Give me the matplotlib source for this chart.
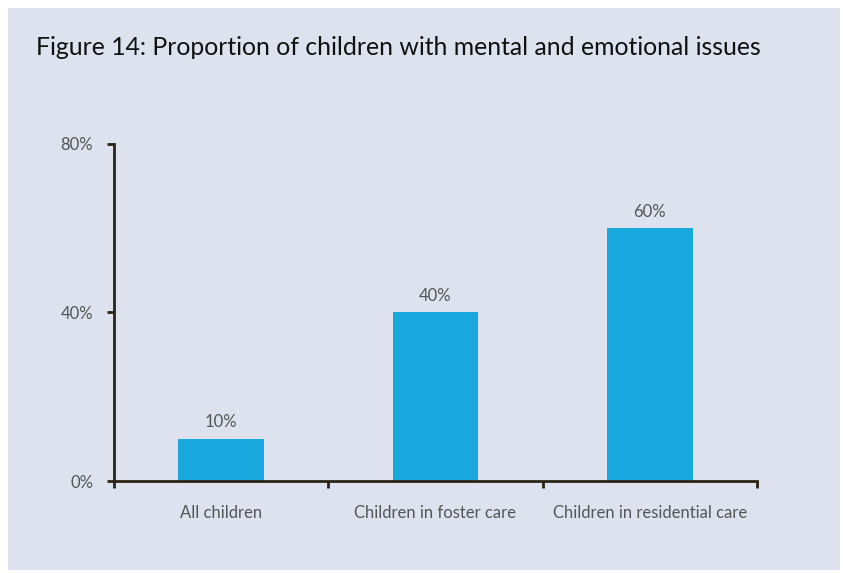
import matplotlib
matplotlib.use("Agg")
import matplotlib.pyplot as plt
from matplotlib.patches import Rectangle

categories = ["All children", "Children in foster care", "Children in residential care"]
values = [10, 40, 60]
value_labels = ["10%", "40%", "60%"]
yticks = [0, 40, 80]
ytick_labels = ["0%", "40%", "80%"]
title = "Figure 14: Proportion of children with mental and emotional issues"

W, H = 843, 573
fig = plt.figure(figsize=(W / 100, H / 100), dpi=100)
fig.patch.set_facecolor("white")
bg = "#dde2ee"
fig.patches.append(Rectangle((8 / W, 3 / H), (840 - 8) / W, (570 - 8) / H,
                             transform=fig.transFigure, facecolor=bg, edgecolor="none", zorder=-10))

plt.rcParams['font.family'] = ['Lato', 'DejaVu Sans']

ax = fig.add_axes([114 / W, (H - 481) / H, (757 - 114) / W, (481 - 144) / H])
ax.set_facecolor("none")
axcol = "#2b2416"
txtcol = "#555555"
fs = 12

x = range(len(categories))
ax.bar(x, values, width=0.4, color="#1aa9de", zorder=2)
for xi, v, lab in zip(x, values, value_labels):
    ax.text(xi, v + 2, lab, ha="center", va="bottom", fontsize=fs, color=txtcol)

ax.set_xlim(-0.5, 2.5)
ax.set_ylim(0, 80)
ax.set_yticks(yticks)
ax.set_yticklabels(ytick_labels, fontsize=fs, color=txtcol)
ax.set_xticks([-0.5, 0.5, 1.5, 2.5])
ax.set_xticklabels([])
ax.set_xticks(list(x), minor=True)
ax.set_xticklabels(categories, minor=True, fontsize=fs, color=txtcol)
ax.tick_params(axis="x", which="minor", length=0, pad=17)
ax.tick_params(axis="x", which="major", length=5, width=2, color=axcol, direction="out")
ax.tick_params(axis="y", length=5, width=2, color=axcol, direction="out", pad=10)
for s in ["top", "right"]:
    ax.spines[s].set_visible(False)
for s in ["left", "bottom"]:
    ax.spines[s].set_color(axcol)
    ax.spines[s].set_linewidth(2)
    ax.spines[s].set_capstyle("projecting")

fig.text(36 / W, (H - 55) / H, title, fontsize=17.8, color="#111111", ha="left", va="baseline")

fig.savefig("out.png", dpi=100, facecolor=fig.get_facecolor())
